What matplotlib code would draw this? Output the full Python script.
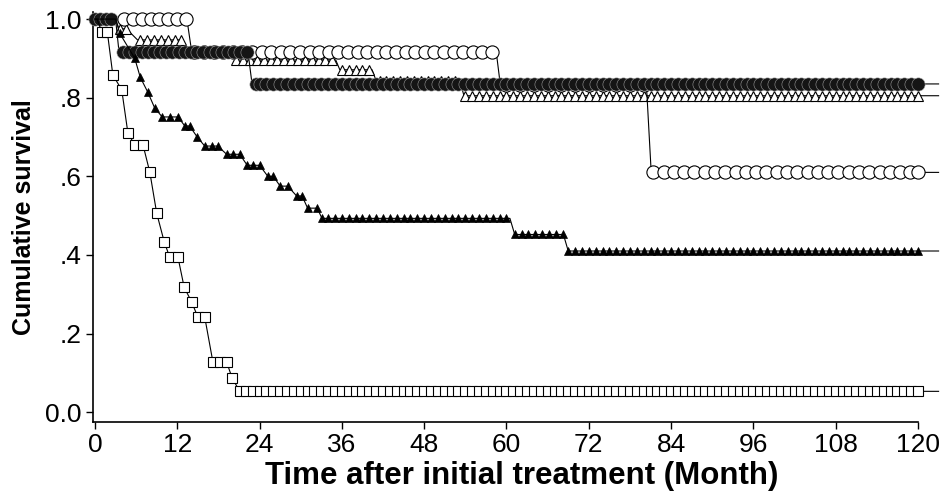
import numpy as np
import matplotlib
matplotlib.use("Agg")
import matplotlib.pyplot as plt

plt.rcParams['font.family'] = ['Liberation Sans', 'DejaVu Sans']

#Axis ticks
#--------------------------------------------------------
months = [0, 12, 24, 36, 48, 60, 72, 84, 96, 108, 120]
surv_ticks = [0.0, 0.2, 0.4, 0.6, 0.8, 1.0]
surv_labels = ['0.0', '.2', '.4', '.6', '.8', '1.0']

#Survival curves (vertex times / survival) and censor marks
#--------------------------------------------------------
# open circles
ocir_t = [0, 13.4, 14.1, 58.5, 59.1, 80.4, 81.1, 123]
ocir_s = [1.0, 1.0, 0.917, 0.917, 0.833, 0.833, 0.61, 0.61]
ocir_marks = [4.2, 5.5, 6.8, 8.1, 9.4, 10.7, 12.0, 13.3,
              14.5, 15.9, 17.3, 18.7, 20.1, 21.5, 22.9, 24.3, 25.7, 27.1, 28.5,
              29.9, 31.3, 32.7, 34.1, 35.5, 36.9, 38.3, 39.7, 41.1, 42.5, 43.9,
              45.3, 46.7, 48.1, 49.5, 50.9, 52.3, 53.7, 55.1, 56.5, 57.9,
              60, 62, 64, 66, 68, 70, 72, 74, 76, 78, 80,
              81.4, 82.9, 84.4, 85.9, 87.4, 88.9, 90.4, 91.9, 93.4, 94.9, 96.4,
              97.9, 99.4, 100.9, 102.4, 103.9, 105.4, 106.9, 108.4, 109.9, 111.4,
              112.9, 114.4, 115.9, 117.4, 118.9, 120.0]

# filled circles
fcir_t = [0, 3.0, 3.5, 22.3, 22.9, 123]
fcir_s = [1.0, 1.0, 0.917, 0.917, 0.835, 0.835]
fcir_marks = [0.0, 0.8, 1.6, 2.4,
              4.1, 5.0, 5.9, 6.8, 7.7, 8.6, 9.5, 10.4, 11.3, 12.2, 13.1, 14.0,
              14.9, 15.8, 16.7, 17.6, 18.5, 19.4, 20.3, 21.2, 22.1,
              23.5, 24, 25, 26, 27, 28, 29, 30, 31, 32, 33, 34, 35, 36, 37,
              38, 39, 40, 41, 42, 43, 44, 45, 46, 47, 48, 49, 50, 51, 52, 53,
              54, 55, 56, 57, 58, 59, 60, 61, 62, 63, 64, 65, 66, 67, 68, 69,
              70, 71, 72, 73, 74, 75, 76, 77, 78, 79, 80, 81, 82, 83, 84, 85,
              86, 87, 88, 89, 90, 91, 92, 93, 94, 95, 96, 97, 98, 99, 100, 101,
              102, 103, 104, 105, 106, 107, 108, 109, 110, 111, 112, 113, 114,
              115, 116, 117, 118, 119, 120]

# open triangles
otri_t = [0, 3.0, 3.5, 4.6, 6.2, 12.8, 13.5, 19.8, 20.4, 35.1, 35.7, 40.4,
          41.0, 53.2, 53.8, 123]
otri_s = [1.0, 1.0, 0.975, 0.975, 0.947, 0.947, 0.92, 0.92, 0.896, 0.896,
          0.871, 0.871, 0.843, 0.843, 0.805, 0.805]
otri_marks = [3.6, 4.5, 6.6, 7.6, 8.6, 9.6, 10.6, 11.6, 12.6,
              14, 15, 16, 17, 18, 19,
              20.6, 21.6, 22.6, 23.6, 24.6, 25.6, 26.6, 27.6, 28.6, 29.6, 30.6,
              31.6, 32.6, 33.6, 34.6,
              36.0, 37.0, 38.0, 39.0, 40.0,
              41.5, 42.5, 43.5, 44.5, 45.5, 46.5, 47.5, 48.5, 49.5, 50.5, 51.5, 52.5,
              54, 55, 56, 57, 58, 59, 60, 61, 62, 63, 64, 65, 66, 67, 68, 69,
              70, 71, 72, 73, 74, 75, 76, 77, 78, 79, 80, 81, 82, 83, 84, 85,
              86, 87, 88, 89, 90, 91, 92, 93, 94, 95, 96, 97, 98, 99, 100, 101,
              102, 103, 104, 105, 106, 107, 108, 109, 110, 111, 112, 113, 114,
              115, 116, 117, 118, 119, 120]

# filled triangles
ftri_t = [0, 3.0, 3.6, 5.8, 6.6, 7.7, 8.7, 9.8, 12.1, 13.1, 13.8, 14.9, 16.0,
          17.9, 19.2, 21.1, 22.2, 24.0, 25.2, 26.0, 27.0, 28.1, 29.4, 30.2,
          31.0, 32.4, 33.1, 60.5, 61.2, 68.3, 69.0, 123]
ftri_s = [1.0, 1.0, 0.964, 0.90, 0.852, 0.814, 0.774, 0.751, 0.751, 0.728,
          0.728, 0.70, 0.677, 0.677, 0.656, 0.656, 0.628, 0.628, 0.60, 0.60,
          0.575, 0.575, 0.55, 0.55, 0.519, 0.519, 0.493, 0.493, 0.452, 0.452,
          0.41, 0.41]
ftri_marks = [3.6, 5.8, 6.6, 7.7, 8.7, 9.8, 10.9, 12.1, 13.1, 13.8, 14.9,
              16.0, 17.0, 17.9, 19.2, 20.1, 21.1, 22.2, 23.1, 24.0, 25.2, 26.0,
              27.0, 28.1, 29.4, 30.2, 31.0, 32.4,
              33.1, 34, 35, 36, 37, 38, 39, 40, 41, 42, 43, 44, 45, 46, 47, 48,
              49, 50, 51, 52, 53, 54, 55, 56, 57, 58, 59, 60,
              61.2, 62.2, 63.2, 64.2, 65.2, 66.2, 67.2, 68.2,
              69, 70, 71, 72, 73, 74, 75, 76, 77, 78, 79, 80, 81, 82, 83, 84,
              85, 86, 87, 88, 89, 90, 91, 92, 93, 94, 95, 96, 97, 98, 99, 100,
              101, 102, 103, 104, 105, 106, 107, 108, 109, 110, 111, 112, 113,
              114, 115, 116, 117, 118, 119, 120]

# open squares
sq_t = [0, 0.3, 1.0, 1.8, 2.6, 3.9, 4.8, 5.8, 7.0, 8.0, 9.0, 10.1, 10.9, 12.1,
        13.0, 14.1, 15.0, 16.0, 17.2, 19.2, 20.0, 21.1, 123]
sq_s = [1.0, 1.0, 0.967, 0.967, 0.858, 0.82, 0.71, 0.68, 0.68, 0.61, 0.506,
        0.433, 0.394, 0.394, 0.318, 0.28, 0.242, 0.242, 0.127, 0.127, 0.087,
        0.053, 0.053]
sq_marks = [1.0, 1.8, 2.6, 3.9, 4.8, 5.8, 7.0, 8.0, 9.0, 10.1, 10.9, 12.1,
            13.0, 14.1, 15.0, 16.0, 17.2, 18.2, 19.2, 20.0, 21.1,
            22, 23, 24, 25, 26, 27, 28, 29, 30, 31, 32, 33, 34, 35, 36, 37, 38,
            39, 40, 41, 42, 43, 44, 45, 46, 47, 48, 49, 50, 51, 52, 53, 54,
            55, 56, 57, 58, 59, 60, 61, 62, 63, 64, 65, 66, 67, 68, 69, 70,
            71, 72, 73, 74, 75, 76, 77, 78, 79, 80, 81, 82, 83, 84, 85, 86,
            87, 88, 89, 90, 91, 92, 93, 94, 95, 96, 97, 98, 99, 100, 101, 102,
            103, 104, 105, 106, 107, 108, 109, 110, 111, 112, 113, 114, 115,
            116, 117, 118, 119, 120]


#survival level at each censor time (last vertex at or before it)
def markLevels(t, s, marks):
    idx = np.searchsorted(t, marks, side='right') - 1
    return np.asarray(s)[idx]


def drawCurve(ax, t, s, marks, z, **mstyle):
    ax.plot(t, s, color='black', lw=0.8, clip_on=False, zorder=z)
    ax.plot(marks, markLevels(t, s, marks), ls='none', clip_on=False,
            zorder=z + 0.5, **mstyle)


fig = plt.figure(figsize=(9.46, 4.96), dpi=100)
ax = fig.add_axes([93 / 946, 74 / 496, 825 / 946, 410 / 496])

drawCurve(ax, otri_t, otri_s, otri_marks, 2, marker='^', ms=7.5,
          mfc='white', mec='black', mew=0.8)
drawCurve(ax, ocir_t, ocir_s, ocir_marks, 3, marker='o', ms=9.5,
          mfc='white', mec='black', mew=0.8)
drawCurve(ax, fcir_t, fcir_s, fcir_marks, 4, marker='o', ms=9.5,
          mfc='#151515', mec='0.6', mew=0.4)
drawCurve(ax, ftri_t, ftri_s, ftri_marks, 5, marker='^', ms=6,
          mfc='black', mec='black', mew=0.5)
drawCurve(ax, sq_t, sq_s, sq_marks, 6, marker='s', ms=7,
          mfc='white', mec='black', mew=0.8)

ax.set_xlim(-0.29, 120)
ax.set_ylim(-0.025, 1.018)
ax.set_xticks(months)
ax.set_yticks(surv_ticks)
ax.set_yticklabels(surv_labels)
ax.tick_params(direction='out', length=5, width=1.0, labelsize=19, pad=3,
               colors='black')

for side in ['top', 'right']:
    ax.spines[side].set_visible(False)
for side in ['left', 'bottom']:
    ax.spines[side].set_linewidth(1.2)

ax.set_xlabel('Time after initial treatment (Month)', fontsize=22.5,
              fontweight='bold')
ax.xaxis.set_label_coords(0.52, -0.094)
ax.set_ylabel('Cumulative survival', fontsize=18, fontweight='bold')
ax.yaxis.set_label_coords(-0.069, 0.5)

fig.savefig('out.png', dpi=100)
